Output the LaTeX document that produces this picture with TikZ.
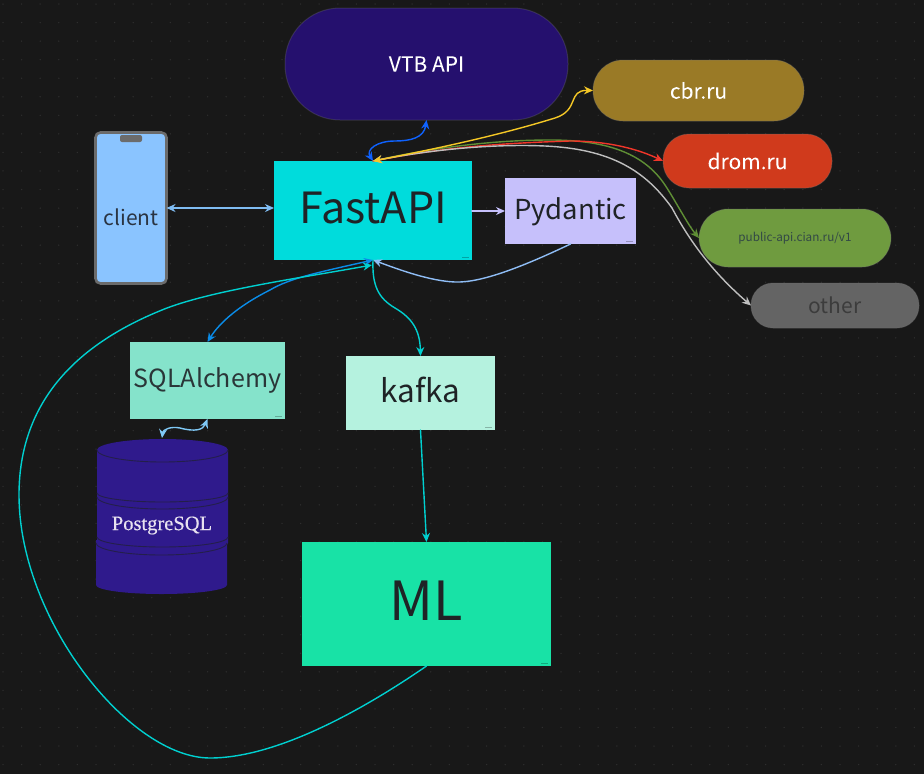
\documentclass[tikz,border=0pt]{standalone}
\usepackage{fontspec}
\setmainfont{Noto Sans CJK SC}
\newfontfamily\pgfont[FakeBold=0.25]{Liberation Serif}
\newfontfamily\medfont[FakeBold=0.45]{Noto Sans CJK SC}
\usetikzlibrary{arrows.meta,calc}
\definecolor{bgc}{HTML}{181818}
\definecolor{dotc}{HTML}{2E2E2E}
\definecolor{inkc}{HTML}{1F2326}
\definecolor{phonec}{HTML}{6B6B6B}
\definecolor{dbc}{HTML}{2F1A8C}
\definecolor{dbl}{HTML}{241F4A}
\newcommand{\lifted}[2]{\raisebox{#1}[0pt][0pt]{#2}}
\tikzset{
  x=1pt,y=-1pt,
  every node/.style={inner sep=0pt,outer sep=0pt},
  pill/.style={draw=black!55!white,draw opacity=.3,line width=1pt,text=white,rounded corners=26pt},
  link/.style={line width=1.4pt,line cap=round},
  both/.style={link,{Stealth[length=9pt,width=8pt]}-{Stealth[length=9pt,width=8pt]}},
  one/.style={link,-{Stealth[length=9pt,width=8pt]}},
  fs/.style={font=\fontsize{#1}{#1}\selectfont},
  fm/.style={font=\medfont\fontsize{#1}{#1}\selectfont},
  markc/.style={line width=.4pt,draw=black,draw opacity=.25}
}
\begin{document}
\begin{tikzpicture}
\useasboundingbox (0,0) rectangle (924,774);
\fill[bgc] (0,0) rectangle (924,774);
% dot grid
\fill[dotc] \foreach \i in {0,...,50}{\foreach \j in {0,...,42}{
  ({3+18.6*\i},{4+18.55*\j}) circle (.75)}};

% service pills
\node[pill,fill={rgb,255:red,37;green,16;blue,110},minimum width=283pt,minimum height=112pt,rounded corners=55pt,fm=21] (vtb) at (426.5,64) {VTB API};
\node[pill,fill={rgb,255:red,154;green,122;blue,38},minimum width=211pt,minimum height=61pt,rounded corners=30pt,fm=21] (cbr) at (698.5,90.5) {cbr.ru};
\node[pill,fill={rgb,255:red,208;green,58;blue,28},minimum width=169pt,minimum height=54pt,fm=21] (drom) at (747.5,161) {drom.ru};
\node[pill,fill={rgb,255:red,111;green,155;blue,63},minimum width=192pt,minimum height=58pt,rounded corners=29pt,text={rgb,255:red,50;green,72;blue,70},fs=11.7] (cian) at (795,238) {public-api.cian.ru/v1};
\node[pill,fill={rgb,255:red,100;green,100;blue,100},minimum width=168pt,minimum height=45pt,rounded corners=22pt,text={rgb,255:red,60;green,60;blue,60},fs=21] (other) at (835,305.5) {other};

% phone
\node[draw=phonec,line width=2.6pt,fill={rgb,255:red,138;green,196;blue,255},rounded corners=5pt,minimum width=71pt,minimum height=151pt,text={rgb,255:red,42;green,52;blue,66},fs=21] (phone) at (131,208) {\lifted{-17pt}{client}};
\fill[phonec,rounded corners=2pt] (120,135) rectangle (142,142);

% boxes
\node[fill={rgb,255:red,0;green,220;blue,220},minimum width=198pt,minimum height=99pt,text=inkc,fs=43] (fast) at (373,210.5) {\lifted{-12.5pt}{FastAPI}};
\node[fill={rgb,255:red,198;green,192;blue,251},minimum width=131pt,minimum height=66pt,text=inkc,fs=27.5] (pyd) at (570.5,211) {\lifted{-8pt}{Pydantic}};
\node[fill={rgb,255:red,133;green,227;blue,203},minimum width=155pt,minimum height=77pt,text={rgb,255:red,42;green,54;blue,56},fs=25] (sql) at (207.5,380.5) {\lifted{-6.5pt}{SQLAlchemy}};
\node[fill={rgb,255:red,181;green,242;blue,223},minimum width=149pt,minimum height=74pt,text=inkc,fs=31.5] (kafka) at (420.5,393) {\lifted{-9pt}{kafka}};
\node[fill={rgb,255:red,24;green,226;blue,166},minimum width=249pt,minimum height=124pt,text=inkc,fs=54] (ml) at (426.5,604) {\lifted{-16pt}{ML}};

% small marks in the box corners
\foreach \n in {fast,pyd,sql,kafka,ml}{
  \draw[markc] ($(\n.south east)+(-10,-3)$) -- ++(7,0);
}

% database
\fill[dbc] (96,540) -- (96,585) arc[start angle=180,end angle=0,x radius=65.5,y radius=9] -- (227,540) -- cycle;
\fill[dbc] (97,450) arc[start angle=180,end angle=360,x radius=65.5,y radius=11] -- (228,543) arc[start angle=0,end angle=180,x radius=65.5,y radius=12] -- cycle;
\draw[dbl,line width=.9pt] (97,450) arc[start angle=180,end angle=0,x radius=65.5,y radius=12];
\draw[dbl,line width=.9pt] (97,493) arc[start angle=180,end angle=0,x radius=65.5,y radius=9];
\draw[dbl,line width=.9pt] (97,497) arc[start angle=180,end angle=0,x radius=65.5,y radius=12];
\draw[dbl,line width=.9pt] (97,537) arc[start angle=180,end angle=0,x radius=65.5,y radius=10];
\draw[dbl,line width=.9pt] (96,543) arc[start angle=180,end angle=0,x radius=65.5,y radius=12];
\node[text={rgb,255:red,232;green,226;blue,240},font=\pgfont\fontsize{20.5}{21}\selectfont] (pg) at (162,525.5) {PostgreSQL};
\coordinate (pgtop) at (162,438);

% connectors
\draw[both,draw={rgb,255:red,127;green,188;blue,242}] (phone.east) -- (phone.east -| fast.west);
\draw[both,draw={rgb,255:red,15;green,98;blue,254}] (fast.north) .. controls (366,150) and (376,141) .. (395,141) .. controls (410,141) and (424,138) .. (vtb.south);
\draw[one,draw={rgb,255:red,198;green,192;blue,251}] (fast.east |- pyd.west) -- (pyd.west);

\draw[one,draw={rgb,255:red,95;green,143;blue,53}] (fast.north) .. controls (440,146) and (500,140) .. (550,140) .. controls (610,140) and (645,155) .. (665,185) .. controls (675,200) and (688,225) .. (cian.west);
\draw[one,draw={rgb,255:red,240;green,54;blue,42}] (fast.north) .. controls (450,146) and (510,143) .. (570,141) .. controls (610,141) and (640,150) .. (drom.west);
\draw[both,draw={rgb,255:red,190;green,190;blue,190}] (fast.north) .. controls (440,148) and (500,144) .. (545,146) .. controls (610,149) and (645,170) .. (672,208) .. controls (688,238) and (710,270) .. (other.west);
\draw[both,draw={rgb,255:red,245;green,200;blue,38}] (fast.north) .. controls (440,148) and (500,135) .. (555,118) .. controls (580,110) and (567,90) .. (cbr.west);

\draw[one,draw={rgb,255:red,143;green,189;blue,245}] (pyd.south) .. controls (520,268) and (480,283) .. (455,282) .. controls (430,281) and (400,270) .. (fast.south);
\draw[both,draw={rgb,255:red,10;green,140;blue,232}] (fast.south) .. controls (320,272) and (290,278) .. (270,290) .. controls (240,305) and (220,322) .. (sql.north);
\draw[one,draw={rgb,255:red,0;green,208;blue,208}] (fast.south) .. controls (372,285) and (378,298) .. (395,308) .. controls (412,318) and (420,330) .. (kafka.north);
\draw[one,draw={rgb,255:red,0;green,208;blue,208}] (kafka.south) -- (ml.north);
\draw[one,draw={rgb,255:red,0;green,208;blue,208}] (ml.south) .. controls (370,705) and (280,758) .. (210,758) .. controls (130,758) and (19,620) .. (19,495) .. controls (19,395) and (85,340) .. (167,308) .. controls (215,290) and (300,278) .. ($(fast.south)+(-1,5)$);
\draw[both,draw={rgb,255:red,127;green,200;blue,245}] (pgtop) .. controls (163,430) and (170,426) .. (180,428) .. controls (195,432) and (203,430) .. (sql.south);
\end{tikzpicture}
\end{document}
